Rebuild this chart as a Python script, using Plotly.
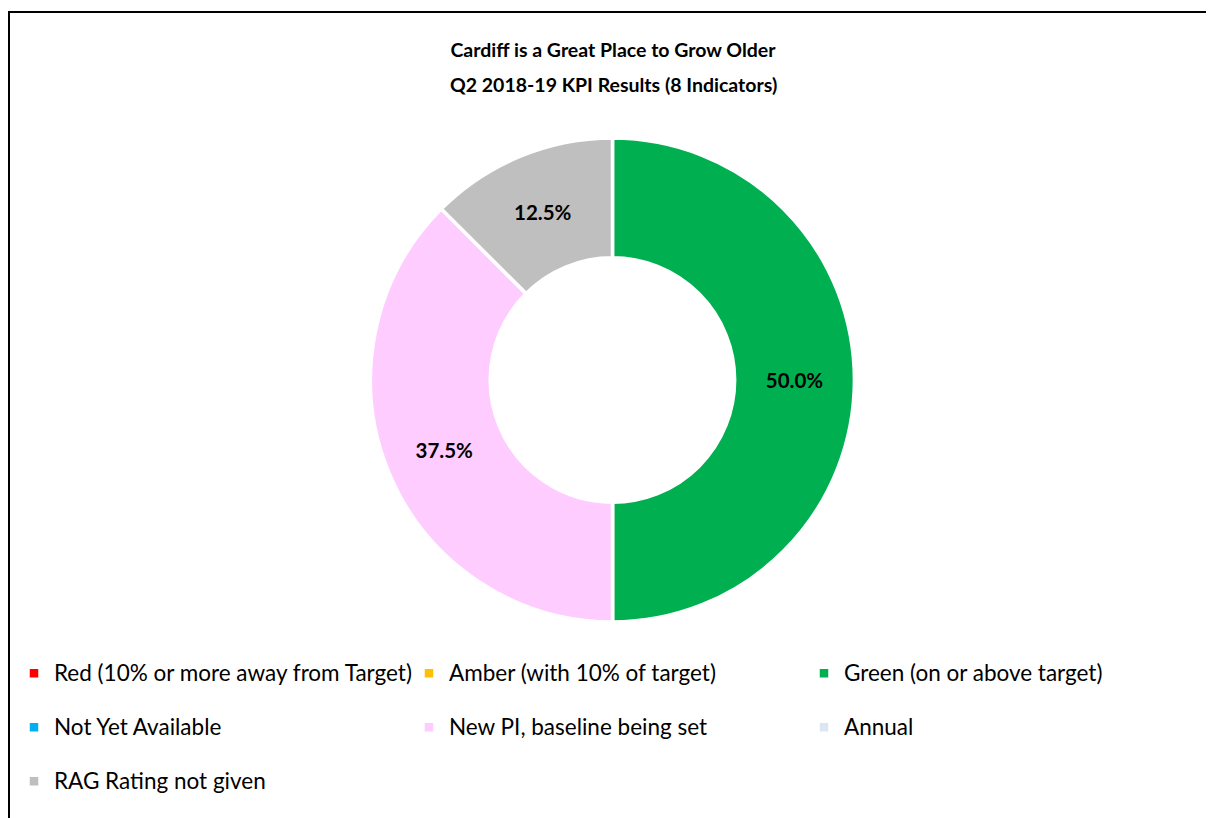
import plotly.graph_objects as go

categories = [
    "Red (10% or more away from Target)",
    "Amber (with 10% of target)",
    "Green (on or above target)",
    "Not Yet Available",
    "New PI, baseline being set",
    "Annual",
    "RAG Rating not given",
]
indicator_counts = [0, 0, 4, 0, 3, 0, 1]
slice_colors = ["#FF0000", "#FFC000", "#00B050", "#00B0F0", "#FFCCFF", "#DCE6F2", "#BFBFBF"]
title_line1 = "Cardiff is a Great Place to Grow Older"
title_line2 = "Q2 2018-19 KPI Results (8 Indicators)"

# the page body has an 8px margin, so the figure is drawn 8px in from the window edge
OFF = 8
W, H = 1214 - OFF, 818 - OFF
FONT = "Lato"


def px_x(x):
    return (x - OFF) / W


def px_y(y):
    return 1 - (y - OFF) / H


# legend names: rows padded with an empty second line for row spacing (last row needs none)
legend_names = []
for i, c in enumerate(categories):
    name = '<span style="font-size:22.5px">' + c + "</span>"
    if i < len(categories) - 1:
        name += "<br> "
    legend_names.append(name)
templates = ["%{percent:.1%}" if v > 0 else "" for v in indicator_counts]

fig = go.Figure(go.Pie(
    labels=legend_names,
    values=indicator_counts,
    sort=False,
    direction="clockwise",
    rotation=0,
    hole=0.505,
    marker=dict(colors=slice_colors, line=dict(color="white", width=3.5)),
    texttemplate=templates,
    textposition="inside",
    insidetextorientation="horizontal",
    textfont=dict(family=FONT, size=20.5, color="black", weight="bold"),
    domain=dict(x=[px_x(370), px_x(855)], y=[px_y(622), px_y(138)]),
    hoverinfo="value+percent",
))

# chart frame: only the left and top edges fall inside the window
fx, fy = px_x(9), px_y(12)
frame_path = f"M {fx},-0.1 L {fx},{fy} L 1.1,{fy}"

fig.update_layout(
    width=W, height=H,
    margin=dict(l=0, r=0, t=0, b=0, autoexpand=False),
    paper_bgcolor="white",
    plot_bgcolor="white",
    title=dict(text=title_line1, x=px_x(613), xanchor="center", y=px_y(50), yanchor="middle",
               font=dict(family=FONT, size=19.5, color="black", weight="bold")),
    annotations=[dict(text=title_line2, x=px_x(613), y=px_y(84), xref="paper", yref="paper",
                      xanchor="center", yanchor="middle", showarrow=False,
                      font=dict(family=FONT, size=19.5, color="black", weight="bold"))],
    legend=dict(
        orientation="h",
        x=px_x(14), xanchor="left",
        y=px_y(654), yanchor="top",
        entrywidth=350, entrywidthmode="pixels",
        valign="top",
        font=dict(family=FONT, size=19.6, color="black"),
        bgcolor="rgba(0,0,0,0)",
        traceorder="normal",
    ),
    shapes=[dict(type="path", xref="paper", yref="paper", path=frame_path,
                 line=dict(color="black", width=2), layer="above")],
)

fig.write_html("out.html")
